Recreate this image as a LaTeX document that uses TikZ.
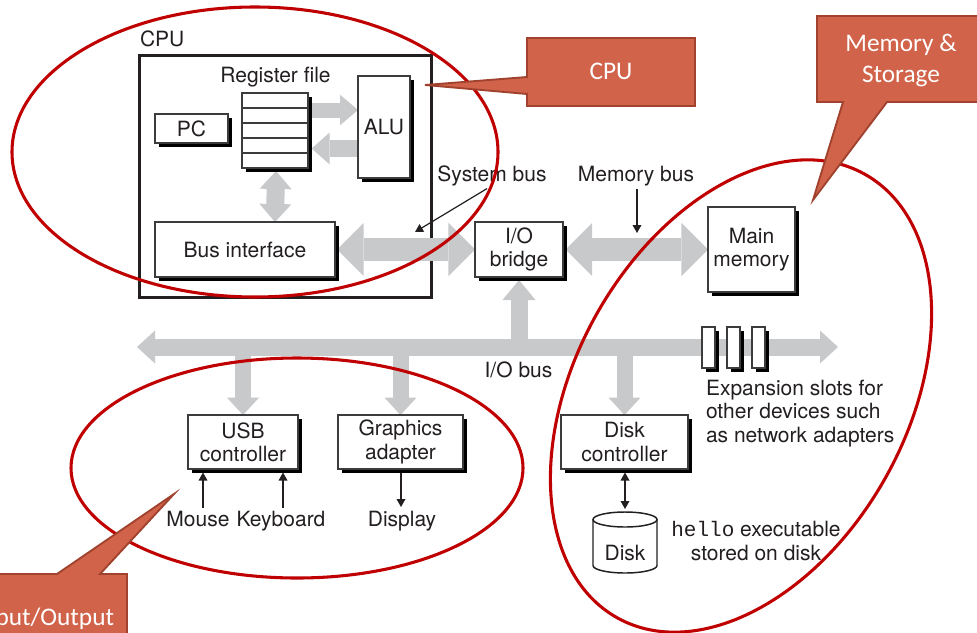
\documentclass[tikz,border=0pt]{standalone}
\usepackage{fontspec}
\setmainfont{TeX Gyre Heros}
\setmonofont{Liberation Mono}
\newfontfamily\calloutfamily{Carlito}
\usetikzlibrary{arrows.meta,shadows,calc,backgrounds}
\newcommand\diagfont{\fontsize{15.75}{17.5}\selectfont}
\newcommand\notefont{\calloutfamily\fontsize{19}{23.25}\selectfont}
\definecolor{busgray}{RGB}{200,201,203}
\definecolor{ink}{RGB}{35,31,32}
\definecolor{boxline}{RGB}{60,60,60}
\definecolor{ringred}{RGB}{192,0,0}
\definecolor{notefill}{RGB}{209,99,74}
\definecolor{noteline}{RGB}{160,66,46}

\begin{document}
\begin{tikzpicture}[x=0.75pt, y=-0.75pt,
  every node/.style={text=ink, font=\diagfont, inner sep=0pt, outer sep=0pt},
  boxsize/.style 2 args={minimum width=#1*0.75pt, minimum height=#2*0.75pt},
  hwbox/.style={draw=boxline, line width=0.8pt, fill=white, align=center,
    shadow xshift=2.8pt, shadow yshift=-2.8pt,
    general shadow={fill=black, draw=none}},
  pipe/.style n args={3}{draw=busgray, line width=#1,
    >={Triangle[width=#2,length=#3,line width=0pt]}},
  tagline/.style={draw=ink, line width=0.9pt, >={Triangle[width=6.5pt,length=6pt]}},
  halo/.style={draw=ringred, line width=2.3pt},
  calloutshape/.style={fill=notefill, draw=noteline, line width=1.4pt},
  notetext/.style={text=white, font=\notefont, align=center},
]
\useasboundingbox (0,0) rectangle (977,632);
\clip (0,0) rectangle (977,632);

\begin{scope}[on background layer]
  \fill[white] (0,0) rectangle (977,632);
  % CPU enclosure
  \node[draw=ink, line width=2.25pt, boxsize={292}{242}] (cpu) at (285.5,176) {};
\end{scope}

% hardware units
\node[hwbox, boxsize={73}{29}] (pc) at (191.5,128.5) {PC};
\node[hwbox, boxsize={66}{75}] (regfile) at (275,130.5) {};
\foreach \k in {1,...,4}
  \draw[boxline, line width=0.8pt] ($(regfile.north west)+(0,15*\k)$) -- ($(regfile.north east)+(0,15*\k)$);
\node[hwbox, boxsize={52}{102}] (alu) at (384,127) {ALU};
\node[hwbox, boxsize={180}{55}] (busif) at (245,249.5) {Bus interface};
\node[hwbox, boxsize={88}{55}] (bridge) at (519,249.5) {I/O\\bridge};
\node[hwbox, boxsize={87}{85}] (mainmem) at (751.5,249.5) {Main\\memory};
\node[hwbox, boxsize={110}{54}] (usb) at (243,442) {USB\\controller};
\node[hwbox, boxsize={125}{54}] (gfx) at (400.5,442) {Graphics\\adapter};
\node[hwbox, boxsize={127}{54}] (diskctl) at (624.5,442) {Disk\\controller};
\node[hwbox, boxsize={13}{41}] (slotA) at (708.5,347.5) {};
\node[hwbox, boxsize={13}{41}] (slotB) at (733.5,347.5) {};
\node[hwbox, boxsize={13}{41}] (slotC) at (758.5,347.5) {};

% disk drum
\draw[ink, line width=1.1pt, fill=white] (593,519.5) -- (593,565.5)
  arc[start angle=180, end angle=0, x radius=32, y radius=7.5] -- (657,519.5);
\draw[ink, line width=1.1pt, fill=white] (625,519.5) ellipse [x radius=32, y radius=7.5];
\node[anchor=base] (disklabel) at (625,560) {Disk};
\coordinate (disktop) at (625,509);

% I/O bus ends
\coordinate (busL) at (137,347);
\coordinate (busR) at (838,347);

% grey data paths
\begin{scope}[on background layer]
  \draw[pipe={11.25pt}{23pt}{13.5pt}, ->] ($(regfile.east)+(4,-20.5)$) -- ($(alu.west)+(0,-17)$);
  \draw[pipe={12.5pt}{24pt}{13.5pt}, ->] ($(alu.west)+(0,21.5)$) -- ($(regfile.east)+(3.7,18)$);
  \draw[pipe={13.5pt}{24pt}{13.5pt}, <->] ($(regfile.south)+(1,3)$) -- (regfile.south |- busif.north);
  \draw[pipe={17.25pt}{40pt}{20pt}, <->] ($(busif.east)+(2,0)$) -- (bridge.west);
  \draw[pipe={17.25pt}{40pt}{20pt}, <->] ($(bridge.east)+(2.5,0)$) -- (mainmem.west);
  \draw[pipe={12.75pt}{24.75pt}{13.5pt}, <->] (busL) -- (busR);
  \draw[pipe={12.75pt}{24.75pt}{15pt}, ->] (bridge.south |- busL) -- ($(bridge.south)+(0,3)$);
  \draw[pipe={12pt}{24pt}{13pt}, ->] (usb.north |- busL) -- (usb.north);
  \draw[pipe={12pt}{24pt}{13pt}, ->] (gfx.north |- busL) -- (gfx.north);
  \draw[pipe={12pt}{24pt}{13pt}, ->] (diskctl.north |- busL) -- (diskctl.north);
\end{scope}

% labels
\node[anchor=base west] (cpulabel) at (140,46) {CPU};
\node[anchor=base] (reglabel) at (275.5,82) {Register file};
\node[anchor=base] (sysbuslabel) at (492,181) {System bus};
\node[anchor=base] (membuslabel) at (636,181) {Memory bus};
\node[anchor=base] (iobuslabel) at (518.5,377) {I/O bus};
\node[anchor=base] (mouse) at (198,526) {Mouse};
\node[anchor=base] (keyboard) at (281,526) {Keyboard};
\node[anchor=base] (display) at (402,526) {Display};
\node[anchor=west, align=left] (slotnote) at (706,413.5) {Expansion slots for\\other devices such\\as network adapters};
\node[align=center] (hellonote) at (756,541) {\texttt{hello} executable\\stored on disk};

% thin pointers
\coordinate (sysbusmark) at (415,232);
\coordinate (membusmark) at (637,233);
\draw[tagline, ->] ($(sysbuslabel.south)+(-5,3)$) -- (sysbusmark);
\draw[tagline, ->] ($(membuslabel.south)+(1,3)$) -- (membusmark);
\draw[tagline, ->] ($(usb.south west)+(15,39)$) -- ($(usb.south west)+(15,3.5)$);
\draw[tagline, ->] ($(usb.south east)+(-15,39)$) -- ($(usb.south east)+(-15,3.5)$);
\draw[tagline, ->] ($(gfx.south)+(0.5,4)$) -- ($(gfx.south)+(0.5,38)$);
\draw[tagline, <->] ($(diskctl.south)+(0.5,3.5)$) -- (disktop);

% highlight rings
\draw[halo] (255,152) ellipse [x radius=243, y radius=145];
\draw[halo] (297,468) ellipse [x radius=226, y radius=110];
\draw[halo, rotate around={60.85:(741,396)}] (741,396) ellipse [x radius=254, y radius=166];

% callouts
\filldraw[calloutshape] (527,38) -- (695,38) -- (695,106) -- (527,106) -- (527,94)
  -- (425,85) -- (527,77) -- cycle;
\node[notetext] (cpunote) at (611,71.5) {CPU};
\filldraw[calloutshape] (817,16) -- (990,16) -- (990,102) -- (887,102)
  -- (813,200) -- (843,102) -- (817,102) -- cycle;
\node[notetext] (memnote) at (901,61) {Memory \&\\Storage};
\filldraw[calloutshape] (-40,574) -- (57,574) -- (174,494) -- (100,574) -- (127,574)
  -- (127,660) -- (-40,660) -- cycle;
\node[notetext, anchor=base] (ionote) at (45,625) {Input/Output};
\end{tikzpicture}
\end{document}
